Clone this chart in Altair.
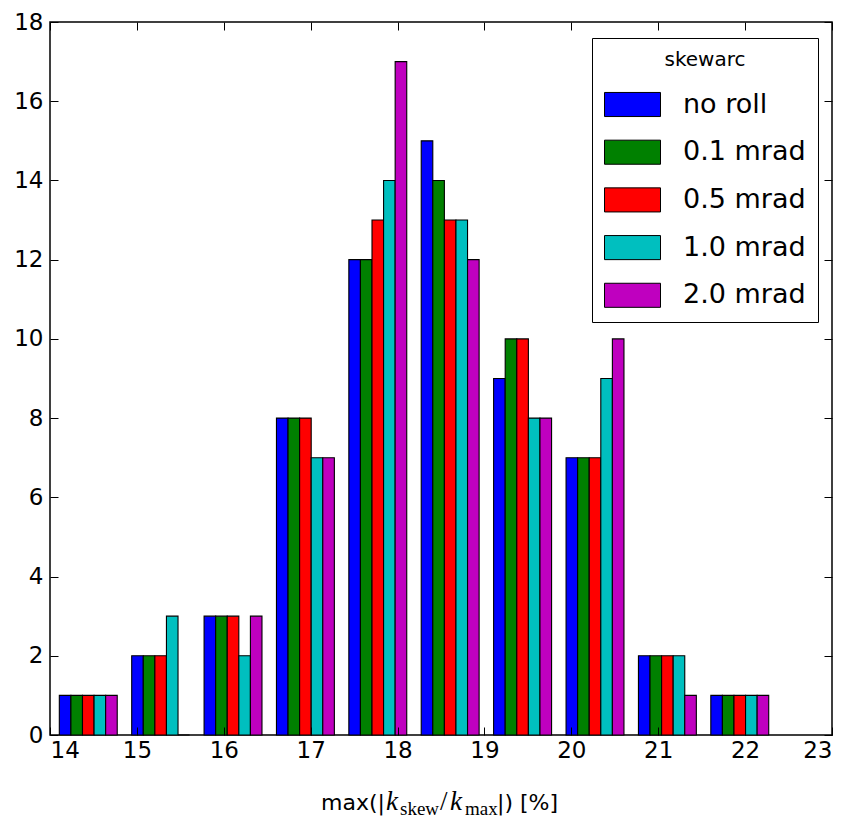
import altair as alt
import pandas as pd

# ---- data ----
series = ["no roll", "0.1 mrad", "0.5 mrad", "1.0 mrad", "2.0 mrad"]
colors = ["#0000ff", "#008000", "#ff0000", "#00bfbf", "#bf00bf"]
bin_edges = [14.024, 14.857, 15.690, 16.523, 17.356, 18.189,
             19.022, 19.856, 20.689, 21.522, 22.355]
counts_no_roll = [1, 2, 3, 8, 12, 15, 9, 7, 2, 1]
counts_01 = [1, 2, 3, 8, 12, 14, 10, 7, 2, 1]
counts_05 = [1, 2, 3, 8, 13, 13, 10, 7, 2, 1]
counts_10 = [1, 3, 2, 7, 14, 13, 8, 9, 2, 1]
counts_20 = [1, 0, 3, 7, 17, 12, 8, 10, 1, 1]
x_ticks = list(range(14, 24))
y_ticks = list(range(0, 19, 2))

all_counts = [counts_no_roll, counts_01, counts_05, counts_10, counts_20]

# matplotlib-style grouped histogram: bars fill 80% of each bin
rows = []
n = len(series)
for i, (name, cnts) in enumerate(zip(series, all_counts)):
    for j, c in enumerate(cnts):
        lo, hi = bin_edges[j], bin_edges[j + 1]
        w = hi - lo
        bw = 0.8 * w / n
        x0 = lo + 0.1 * w + i * bw
        rows.append({"series": name, "x0": x0, "x1": x0 + bw, "count": c})
df = pd.DataFrame(rows)

W, H = 782, 713

bars = alt.Chart(df).mark_bar(stroke="black", strokeWidth=1.1, opacity=1).encode(
    x=alt.X("x0:Q", scale=alt.Scale(domain=[14, 23], nice=False, zero=False, padding=0),
            axis=alt.Axis(values=x_ticks, title=None, grid=True,
                          gridDash=[8, H - 16, 8, 3000], gridColor="black",
                          gridOpacity=1, gridWidth=1, ticks=False, domain=False,
                          labelFontSize=23, labelPadding=4, labelColor="black",
                          labelFont="DejaVu Sans", zindex=1)),
    x2="x1:Q",
    y=alt.Y("count:Q", scale=alt.Scale(domain=[0, 18], nice=False, padding=0),
            axis=alt.Axis(values=y_ticks, title=None, grid=True,
                          gridDash=[8, W - 16, 8, 3000], gridColor="black",
                          gridOpacity=1, gridWidth=1, ticks=False, domain=False,
                          labelFontSize=23, labelPadding=7, labelColor="black",
                          labelFont="DejaVu Sans", zindex=1)),
    y2=alt.datum(0),
    color=alt.Color("series:N", scale=alt.Scale(domain=series, range=colors),
                    legend=alt.Legend(
                        title="skewarc", orient="none", legendX=542, legendY=16,
                        titleFontSize=20, titleFontWeight="normal",
                        titleFont="DejaVu Sans", titleColor="black",
                        titleAnchor="middle", titleAlign="center", titlePadding=20,
                        labelFontSize=27, labelFont="DejaVu Sans", labelColor="black",
                        symbolType="M-2,-0.86H2V0.86H-2Z", symbolSize=784,
                        symbolOffset=14, labelOffset=36, rowPadding=18.7,
                        symbolStrokeColor="black", symbolStrokeWidth=1,
                        symbolOpacity=1, padding=12, strokeColor="black",
                        fillColor="white")),
)

# x-axis title pieces (mathtext-like)
one = pd.DataFrame({"k": [0]})
def piece(txt, px, py, font, size, style="normal"):
    return alt.Chart(one).mark_text(
        text=txt, align="left", baseline="alphabetic", font=font,
        fontSize=size, fontStyle=style, color="black"
    ).encode(x=alt.value(px), y=alt.value(py))

base_y = 788
sub_y = 793
title_layers = [
    piece("max(|", 271, base_y, "DejaVu Sans", 22),
    piece("k", 336, base_y, "Liberation Serif", 27, "italic"),
    piece("skew", 350, sub_y, "Liberation Serif", 19),
    piece("/", 390, base_y, "Liberation Serif", 27),
    piece("k", 400, base_y, "Liberation Serif", 27, "italic"),
    piece("max", 415, sub_y, "Liberation Serif", 19),
    piece("|) [%]", 447, base_y, "DejaVu Sans", 22),
]

chart = alt.layer(bars, *title_layers).properties(
    width=W, height=H,
    autosize=alt.AutoSizeParams(type="none"),
    padding={"left": 42, "top": 14, "right": 7, "bottom": 83},
    background="white",
).configure_view(stroke="black", strokeWidth=1.5)

chart.save("out.html", embed_options={"renderer": "svg", "actions": False})
